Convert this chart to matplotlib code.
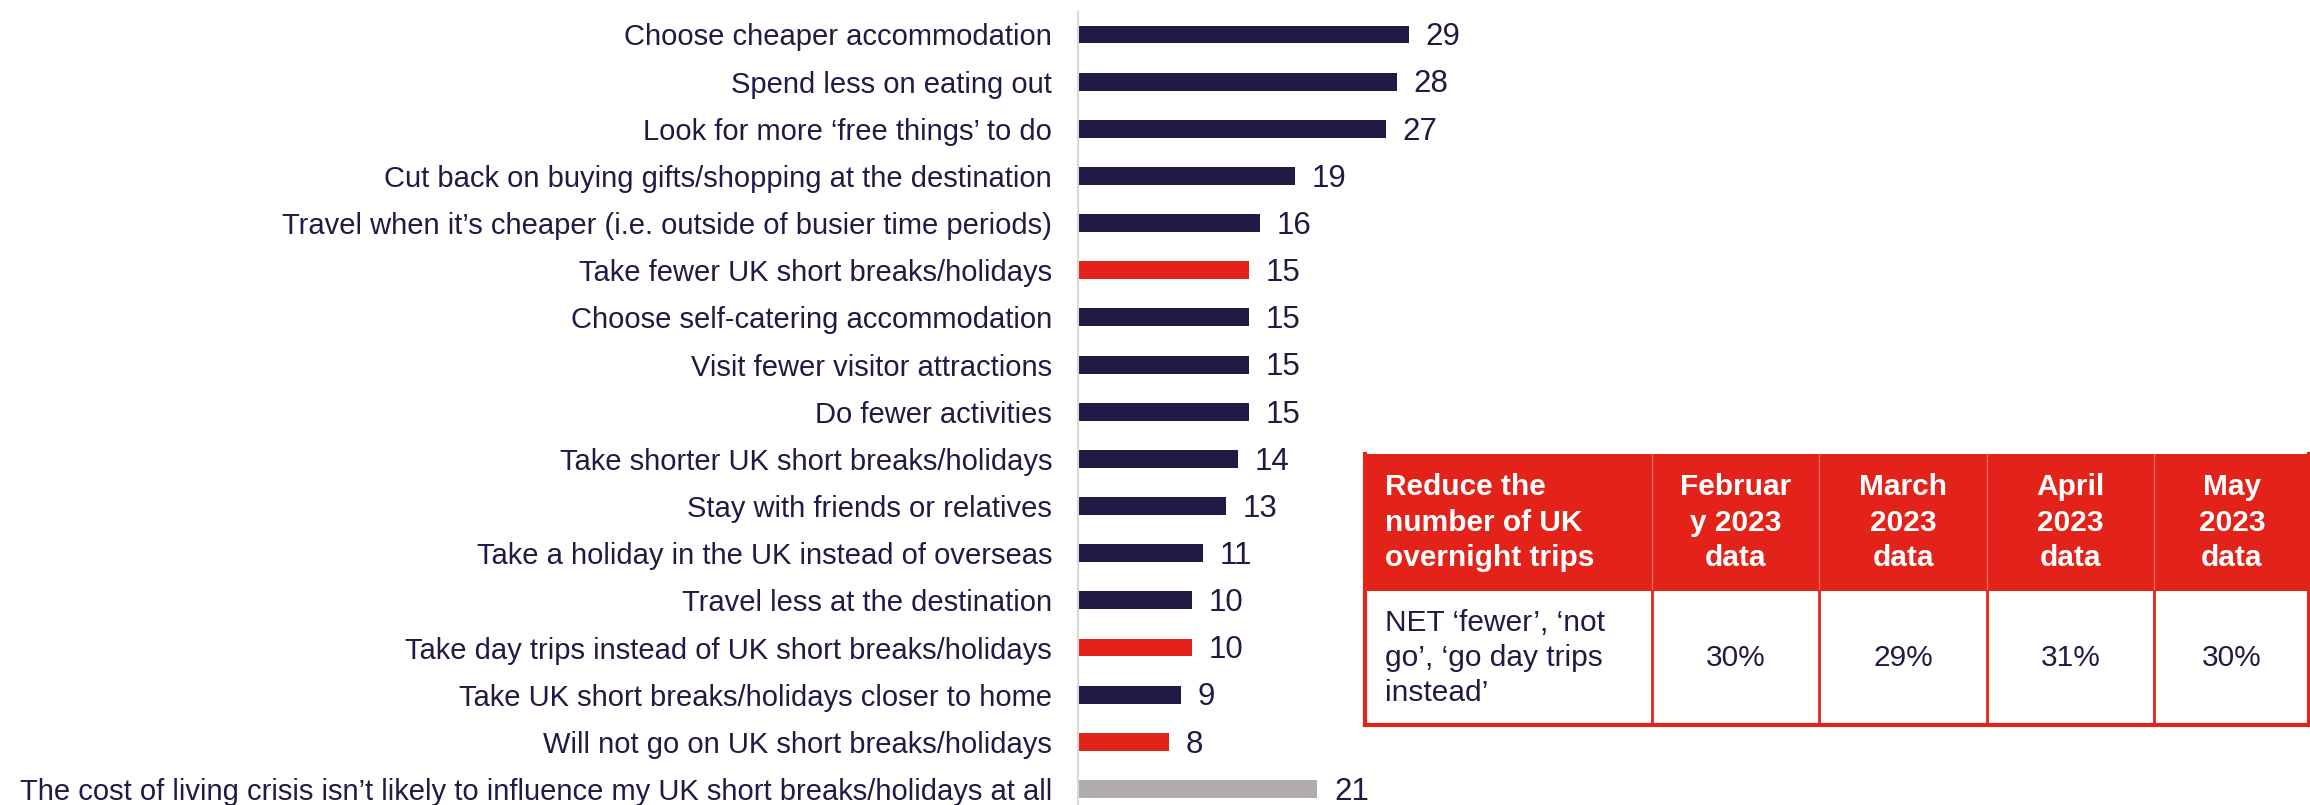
import numpy as np
import matplotlib.pyplot as plt
from matplotlib.patches import Rectangle

plt.rcParams['font.family'] = ['Liberation Sans', 'DejaVu Sans']

# data
labels = [
    'Choose cheaper accommodation',
    'Spend less on eating out',
    'Look for more ‘free things’ to do',
    'Cut back on buying gifts/shopping at the destination',
    'Travel when it’s cheaper (i.e. outside of busier time periods)',
    'Take fewer UK short breaks/holidays',
    'Choose self-catering accommodation',
    'Visit fewer visitor attractions',
    'Do fewer activities',
    'Take shorter UK short breaks/holidays',
    'Stay with friends or relatives',
    'Take a holiday in the UK instead of overseas',
    'Travel less at the destination',
    'Take day trips instead of UK short breaks/holidays',
    'Take UK short breaks/holidays closer to home',
    'Will not go on UK short breaks/holidays',
    'The cost of living crisis isn’t likely to influence my UK short breaks/holidays at all',
]
values = [29, 28, 27, 19, 16, 15, 15, 15, 15, 14, 13, 11, 10, 10, 9, 8, 21]
kinds = ['other', 'other', 'other', 'other', 'other', 'trips', 'other', 'other',
         'other', 'other', 'other', 'other', 'other', 'trips', 'other', 'trips', 'none']

table_header = ['Reduce the\nnumber of UK\novernight trips', 'Februar\ny 2023\ndata',
                'March\n2023\ndata', 'April\n2023\ndata', 'May\n2023\ndata']
table_row = ['NET ‘fewer’, ‘not\ngo’, ‘go day trips\ninstead’', '30%', '29%', '31%', '30%']

navy = '#211A45'
red = '#E3221A'
grey = '#AFACAB'
kind_colors = {'other': navy, 'trips': red, 'none': grey}

W, H = 2310, 805
fig = plt.figure(figsize=(W / 100, H / 100), dpi=100)

# bar chart
ax = fig.add_axes([1078 / W, 0, 456 / W, 1 - 12 / H])
n = len(values)
y = np.arange(n)
bars = ax.barh(y, values, height=0.38, color=[kind_colors[k] for k in kinds])
ax.set_ylim(n - 1 + 0.34, -0.477)
ax.set_xlim(0, 40)
for s in ['top', 'right', 'bottom']:
    ax.spines[s].set_visible(False)
ax.spines['left'].set_color('#D9D9D9')
ax.spines['left'].set_linewidth(1.5)
ax.set_xticks([])
ax.set_yticks(y)
ax.set_yticklabels(labels, fontsize=21, color=navy)
ax.tick_params(axis='y', length=0, pad=18.7)
for yi, v in zip(y, values):
    ax.annotate(str(v), (v, yi), xytext=(12, -2), textcoords='offset points',
                ha='left', va='center', fontsize=22.5, color=navy)
ax.patch.set_alpha(0)

# table (drawn in pixel coords)
tax = fig.add_axes([0, 0, 1, 1])
tax.set_xlim(0, W)
tax.set_ylim(H, 0)
tax.axis('off')
tax.patch.set_alpha(0)

col_edges = [1365, 1652, 1819, 1987, 2154, 2310]
row_edges = [454, 591, 725]

tax.add_patch(Rectangle((col_edges[0], row_edges[0]), col_edges[-1] - col_edges[0],
                        row_edges[1] - row_edges[0], facecolor=red, edgecolor='none'))
for x in col_edges[1:-1]:
    tax.plot([x, x], [row_edges[0], row_edges[1]], color='#EC6A62', lw=1)
    tax.plot([x, x], [row_edges[1], row_edges[2]], color=red, lw=2)
tax.plot([col_edges[0], col_edges[-1]], [row_edges[2], row_edges[2]], color=red, lw=3)
tax.plot([col_edges[0], col_edges[0]], [row_edges[0], row_edges[2]], color=red, lw=3)
tax.plot([col_edges[-1] - 1, col_edges[-1] - 1], [row_edges[0], row_edges[2]], color=red, lw=3)

hy = (row_edges[0] + row_edges[1]) / 2
by = (row_edges[1] + row_edges[2]) / 2
for i in range(len(table_header)):
    if i == 0:
        hx, ha = col_edges[0] + 20, 'left'
    else:
        hx, ha = (col_edges[i] + col_edges[i + 1]) / 2, 'center'
    tax.text(hx, hy, table_header[i], ha=ha, va='center', multialignment=ha,
             fontsize=21.5, fontweight='bold', color='white', linespacing=1.33)
    tax.text(hx, by, table_row[i], ha=ha, va='center', multialignment=ha,
             fontsize=21.5, color=navy, linespacing=1.33)

fig.savefig('out.png', dpi=100)
